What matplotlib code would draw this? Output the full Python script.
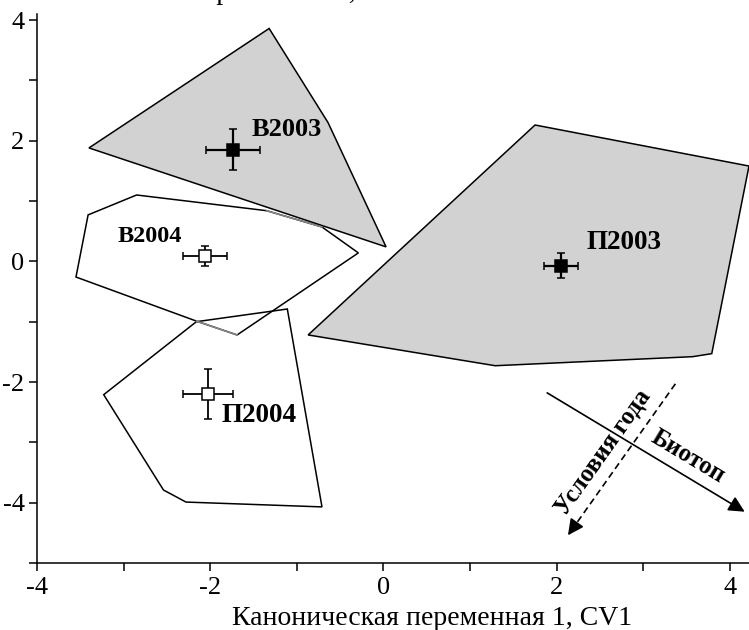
import numpy as np
import matplotlib
matplotlib.use("Agg")
import matplotlib.pyplot as plt
from matplotlib.patches import Polygon
from matplotlib.ticker import MultipleLocator

plt.rcParams["font.family"] = ["Liberation Serif", "DejaVu Serif"]
plt.rcParams["axes.unicode_minus"] = False

# convex hulls of the four groups (CV1, CV2)
B2003_HULL = [(-3.40, 1.88), (-1.32, 3.86), (-0.64, 2.30), (0.03, 0.24)]
P2003_HULL = [(1.75, 2.26), (4.22, 1.58), (3.79, -1.53), (3.57, -1.58),
              (1.29, -1.73), (-0.87, -1.22)]
B2004_HULL = [(-2.85, 1.10), (-1.35, 0.84), (-0.71, 0.57), (-0.29, 0.14),
              (-1.69, -1.22), (-2.16, -0.99), (-3.55, -0.26), (-3.41, 0.77)]
P2004_HULL = [(-2.16, -1.00), (-1.11, -0.79), (-0.71, -4.07), (-2.28, -3.99),
              (-2.54, -3.79), (-3.23, -2.21)]

# group centroids with errors
GROUPS  = ["В2003", "В2004", "П2003", "П2004"]
MEAN_X  = [-1.74, -2.06, 2.05, -2.03]
MEAN_Y  = [1.85, 0.09, -0.07, -2.20]
ERR_X   = [0.31, 0.25, 0.20, 0.29]
ERR_Y   = [0.34, 0.17, 0.21, 0.41]
FILLED  = [True, False, True, False]

LABEL_X = [-1.52, -3.07, 2.34, -1.87]
LABEL_Y = [2.18, 0.42, 0.31, -2.55]
LABEL_FS = [19, 17.5, 19.5, 19.5]

# direction arrows
BIOTOP_START = np.array([1.89, -2.18])
BIOTOP_END   = np.array([4.17, -4.15])
YEAR_START   = np.array([3.37, -2.03])
YEAR_END     = np.array([2.13, -4.54])

W, H = 749, 630
fig = plt.figure(figsize=(W / 100, H / 100), dpi=100, facecolor="white")
ax = fig.add_axes([37 / W, (H - 563) / H, (W - 37) / W, (563 - 14) / H])
ax.set_xlim(-4, 4.22)
ax.set_ylim(-5, 4.1)

gray = "#d2d2d2"
ax.add_patch(Polygon(B2003_HULL, closed=True, facecolor=gray,
                     edgecolor="black", lw=1.1, zorder=1))
ax.add_patch(Polygon(P2003_HULL, closed=True, facecolor=gray,
                     edgecolor="black", lw=1.1, zorder=1))
ax.add_patch(Polygon(B2004_HULL, closed=True, facecolor="none",
                     edgecolor="black", lw=1.1, zorder=2))
ax.add_patch(Polygon(P2004_HULL, closed=True, facecolor="none",
                     edgecolor="black", lw=1.1, zorder=2))
# two edges of В2004 look grey in the original
for i, j in [(1, 2), (4, 5)]:
    xs = [B2004_HULL[i][0], B2004_HULL[j][0]]
    ys = [B2004_HULL[i][1], B2004_HULL[j][1]]
    ax.plot(xs, ys, color="#888888", lw=1.1, zorder=3)

for k in range(len(GROUPS)):
    ax.errorbar(MEAN_X[k], MEAN_Y[k], xerr=ERR_X[k], yerr=ERR_Y[k],
                fmt="s", ms=8, mfc="black" if FILLED[k] else "white",
                mec="black", mew=1.1, ecolor="black",
                elinewidth=1.6 if FILLED[k] else 1.3,
                capsize=3, capthick=1.2, zorder=5)
    ax.text(LABEL_X[k], LABEL_Y[k], GROUPS[k], fontsize=LABEL_FS[k],
            fontweight="bold", ha="left", va="center", zorder=6)

# arrows
ax.annotate("", xy=BIOTOP_END, xytext=BIOTOP_START,
            arrowprops=dict(arrowstyle="-|>", color="black", lw=1.2,
                            mutation_scale=24, shrinkA=0, shrinkB=0))
head_from = YEAR_END + 0.06 * (YEAR_START - YEAR_END)
ax.plot([YEAR_START[0], head_from[0]], [YEAR_START[1], head_from[1]],
        color="black", lw=1.2, ls=(0, (4, 2.5)))
ax.annotate("", xy=YEAR_END, xytext=head_from,
            arrowprops=dict(arrowstyle="-|>", color="black", lw=1.2,
                            mutation_scale=24, shrinkA=0, shrinkB=0))


def screen_angle(p0, p1):
    a = ax.transData.transform(p0)
    b = ax.transData.transform(p1)
    return np.degrees(np.arctan2(b[1] - a[1], b[0] - a[0]))


ax.text(3.52, -3.24, "Биотоп", fontsize=18, fontweight="bold",
        rotation=screen_angle(BIOTOP_START, BIOTOP_END),
        rotation_mode="anchor", ha="center", va="center")
ax.text(2.53, -3.16, "Условия года", fontsize=18, fontweight="bold",
        rotation=screen_angle(YEAR_END, YEAR_START),
        rotation_mode="anchor", ha="center", va="center")

# axes styling
for s in ["top", "right"]:
    ax.spines[s].set_visible(False)
for s in ["left", "bottom"]:
    ax.spines[s].set_linewidth(1.1)
ax.xaxis.set_major_locator(MultipleLocator(2))
ax.xaxis.set_minor_locator(MultipleLocator(1))
ax.yaxis.set_major_locator(MultipleLocator(2))
ax.yaxis.set_minor_locator(MultipleLocator(1))
ax.tick_params(which="both", direction="out", length=6, width=1.1,
               labelsize=19)
ax.tick_params(axis="x", pad=4)
ax.tick_params(axis="y", pad=3)

ax.set_xlabel("Каноническая переменная 1, CV1", fontsize=20)
ax.xaxis.set_label_coords((432 - 37) / (W - 37), (563 - 625) / (563 - 14))
ax.xaxis.label.set_va("baseline")
# cut-off label at the very top of the original picture (only descenders show)
fig.text(15 / W, (H + 1) / H, "Каноническая переменная 2, CV2",
         fontsize=20, ha="left", va="baseline")

fig.savefig("out.png", dpi=100, facecolor="white")
plt.close(fig)
